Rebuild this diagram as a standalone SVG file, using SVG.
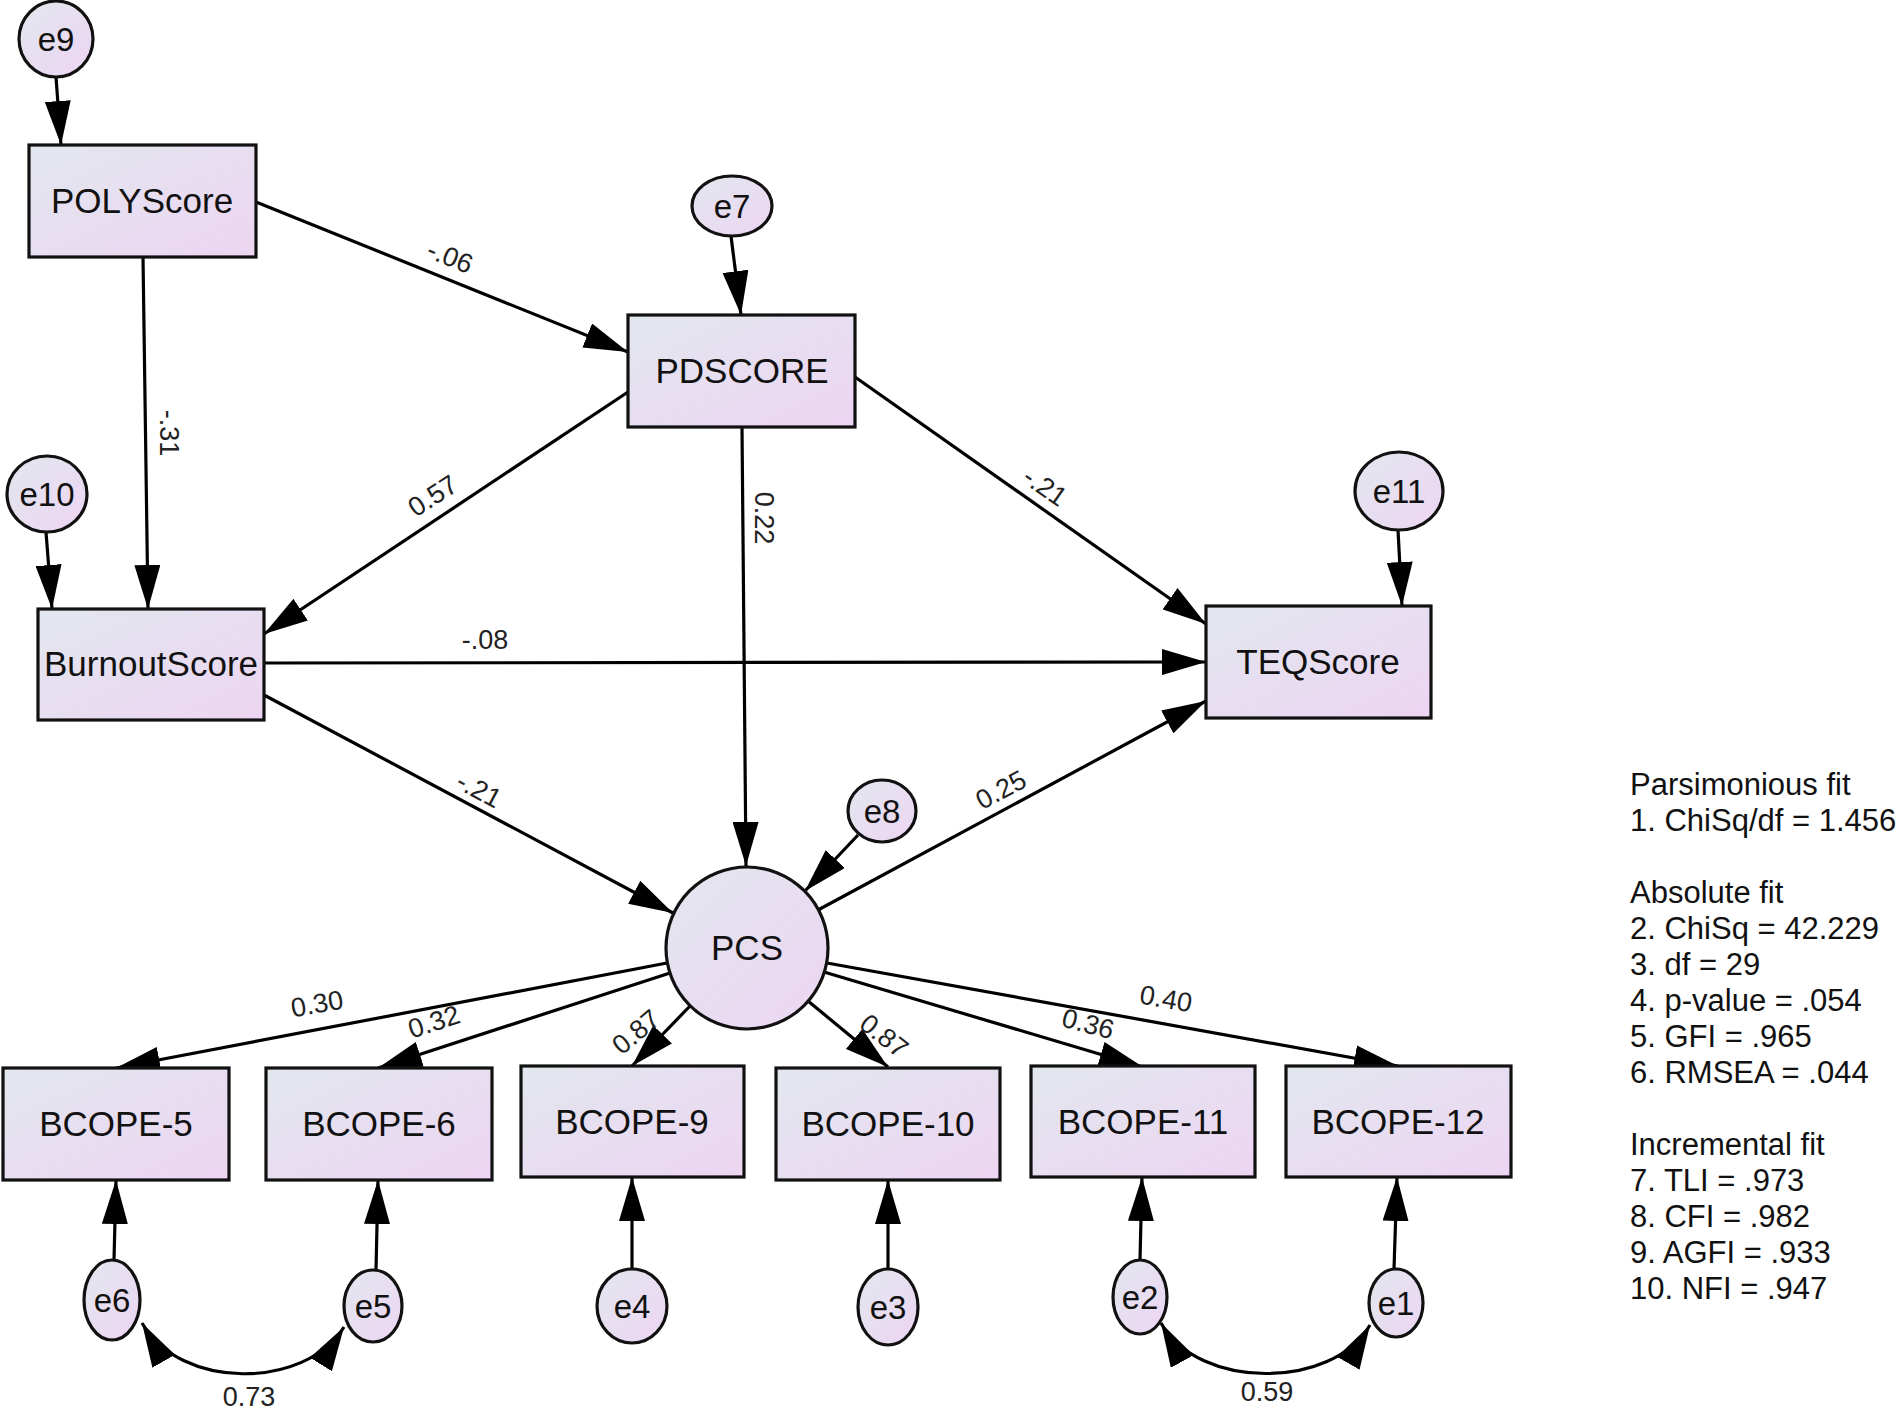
<svg xmlns="http://www.w3.org/2000/svg" width="1901" height="1409" viewBox="0 0 1901 1409">
<defs>
<linearGradient id="g" x1="0" y1="0" x2="1" y2="1">
<stop offset="0" stop-color="#e2e7ee"/>
<stop offset="1" stop-color="#edd5f3"/>
</linearGradient>
<marker id="ah" markerUnits="userSpaceOnUse" markerWidth="44" markerHeight="26" refX="44" refY="13" orient="auto-start-reverse" viewBox="0 0 44 26">
<path d="M0,0 L44,13 L0,26 Z" fill="#000"/>
</marker>
<style>
.box{fill:url(#g);stroke:#111;stroke-width:3.2}
.err{fill:url(#g);stroke:#111;stroke-width:3.2}
.nl{font-family:"Liberation Sans",Arial,sans-serif;font-size:35px;fill:#111;text-anchor:middle}
.el{font-family:"Liberation Sans",Arial,sans-serif;font-size:33px;fill:#111;text-anchor:middle}
.lab{font-family:"Liberation Sans",Arial,sans-serif;font-size:27px;fill:#222;text-anchor:middle}
.fit{font-family:"Liberation Sans",Arial,sans-serif;font-size:31px;fill:#111}
.c line,.c path{stroke:#000;stroke-width:3.2;fill:none;marker-end:url(#ah)}
.c path.cov{marker-start:url(#ah)}
</style>
</defs>
<rect width="1901" height="1409" fill="#fff"/>

<g id="connectors" class="c">
<line x1="56" y1="77" x2="61" y2="145"/>
<line x1="731" y1="236" x2="741" y2="315"/>
<line x1="46" y1="532" x2="52" y2="609"/>
<line x1="1398" y1="530" x2="1402" y2="606"/>
<line x1="858" y1="835" x2="805" y2="891"/>
<line x1="256" y1="202" x2="628" y2="352"/>
<line x1="143" y1="257" x2="148" y2="609"/>
<line x1="628" y1="392" x2="264" y2="634"/>
<line x1="742" y1="427" x2="746" y2="866"/>
<line x1="855" y1="377" x2="1206" y2="624"/>
<line x1="264" y1="663" x2="1206" y2="662"/>
<line x1="264" y1="695" x2="673" y2="913"/>
<line x1="818" y1="910" x2="1206" y2="701"/>
<line x1="667" y1="963" x2="116" y2="1068"/>
<line x1="670" y1="973" x2="378" y2="1068"/>
<line x1="690" y1="1006" x2="632" y2="1066"/>
<line x1="808" y1="1001" x2="888" y2="1067"/>
<line x1="824" y1="972" x2="1143" y2="1067"/>
<line x1="827" y1="963" x2="1398" y2="1066"/>
<line x1="114" y1="1260" x2="116" y2="1180"/>
<line x1="376" y1="1270" x2="378" y2="1180"/>
<line x1="632" y1="1269" x2="632" y2="1177"/>
<line x1="888" y1="1269" x2="888" y2="1180"/>
<line x1="1140" y1="1260" x2="1142" y2="1177"/>
<line x1="1394" y1="1269" x2="1397" y2="1177"/>
<path class="cov" d="M142,1323 C180,1390 305,1390 344,1327"/>
<path class="cov" d="M1161,1323 C1198,1390 1333,1390 1370,1325"/>
</g>

<g id="edge-labels">
<text class="lab" transform="translate(450,257) rotate(22)" y="9">-.06</text>
<text class="lab" transform="translate(169,433) rotate(90)" y="9">-.31</text>
<text class="lab" transform="translate(433,496) rotate(-33)" y="9">0.57</text>
<text class="lab" transform="translate(764,518) rotate(90)" y="9">0.22</text>
<text class="lab" transform="translate(1045,487) rotate(35)" y="9">-.21</text>
<text class="lab" transform="translate(485,640)" y="9">-.08</text>
<text class="lab" transform="translate(479,790) rotate(28)" y="9">-.21</text>
<text class="lab" transform="translate(1001,790) rotate(-28)" y="9">0.25</text>
<text class="lab" transform="translate(317,1004) rotate(-10)" y="9">0.30</text>
<text class="lab" transform="translate(434,1022) rotate(-18)" y="9">0.32</text>
<text class="lab" transform="translate(636,1032) rotate(-40)" y="9">0.87</text>
<text class="lab" transform="translate(884,1036) rotate(38)" y="9">0.87</text>
<text class="lab" transform="translate(1088,1024) rotate(15)" y="9">0.36</text>
<text class="lab" transform="translate(1166,999) rotate(10)" y="9">0.40</text>
<text class="lab" transform="translate(249,1397)" y="9">0.73</text>
<text class="lab" transform="translate(1267,1392)" y="9">0.59</text>
</g>

<g id="POLYScore"><rect class="box" x="29" y="145" width="227" height="112"/><text class="nl" x="142" y="213">POLYScore</text></g>
<g id="PDSCORE"><rect class="box" x="628" y="315" width="227" height="112"/><text class="nl" x="742" y="383">PDSCORE</text></g>
<g id="BurnoutScore"><rect class="box" x="38" y="609" width="226" height="111"/><text class="nl" x="151" y="676">BurnoutScore</text></g>
<g id="TEQScore"><rect class="box" x="1206" y="606" width="225" height="112"/><text class="nl" x="1318" y="674">TEQScore</text></g>
<g id="PCS"><circle class="err" cx="747" cy="948" r="81"/><text class="nl" x="747" y="960">PCS</text></g>
<g id="BCOPE-5"><rect class="box" x="3" y="1068" width="226" height="112"/><text class="nl" x="116" y="1136">BCOPE-5</text></g>
<g id="BCOPE-6"><rect class="box" x="266" y="1068" width="226" height="112"/><text class="nl" x="379" y="1136">BCOPE-6</text></g>
<g id="BCOPE-9"><rect class="box" x="521" y="1066" width="223" height="111"/><text class="nl" x="632" y="1134">BCOPE-9</text></g>
<g id="BCOPE-10"><rect class="box" x="776" y="1068" width="224" height="112"/><text class="nl" x="888" y="1136">BCOPE-10</text></g>
<g id="BCOPE-11"><rect class="box" x="1031" y="1066" width="224" height="111"/><text class="nl" x="1143" y="1134">BCOPE-11</text></g>
<g id="BCOPE-12"><rect class="box" x="1286" y="1066" width="225" height="111"/><text class="nl" x="1398" y="1134">BCOPE-12</text></g>

<g id="e9"><ellipse class="err" cx="56" cy="39" rx="37" ry="38"/><text class="el" x="56" y="51">e9</text></g>
<g id="e7"><ellipse class="err" cx="732" cy="206" rx="40" ry="30"/><text class="el" x="732" y="218">e7</text></g>
<g id="e10"><ellipse class="err" cx="47" cy="494" rx="40" ry="38"/><text class="el" x="47" y="506">e10</text></g>
<g id="e11"><ellipse class="err" cx="1399" cy="491" rx="44" ry="39"/><text class="el" x="1399" y="503">e11</text></g>
<g id="e8"><ellipse class="err" cx="882" cy="811" rx="34" ry="31"/><text class="el" x="882" y="823">e8</text></g>
<g id="e6"><ellipse class="err" cx="112" cy="1300" rx="28" ry="40"/><text class="el" x="112" y="1312">e6</text></g>
<g id="e5"><ellipse class="err" cx="373" cy="1306" rx="29" ry="36"/><text class="el" x="373" y="1318">e5</text></g>
<g id="e4"><ellipse class="err" cx="632" cy="1306" rx="35" ry="37"/><text class="el" x="632" y="1318">e4</text></g>
<g id="e3"><ellipse class="err" cx="888" cy="1307" rx="30" ry="38"/><text class="el" x="888" y="1319">e3</text></g>
<g id="e2"><ellipse class="err" cx="1140" cy="1297" rx="27" ry="37"/><text class="el" x="1140" y="1309">e2</text></g>
<g id="e1"><ellipse class="err" cx="1396" cy="1303" rx="27" ry="34"/><text class="el" x="1396" y="1315">e1</text></g>

<g id="fit-indices" class="fit">
<text x="1630" y="795">Parsimonious fit</text>
<text x="1630" y="831">1. ChiSq/df = 1.456</text>
<text x="1630" y="903">Absolute fit</text>
<text x="1630" y="939">2. ChiSq = 42.229</text>
<text x="1630" y="975">3. df = 29</text>
<text x="1630" y="1011">4. p-value = .054</text>
<text x="1630" y="1047">5. GFI = .965</text>
<text x="1630" y="1083">6. RMSEA = .044</text>
<text x="1630" y="1155">Incremental fit</text>
<text x="1630" y="1191">7. TLI = .973</text>
<text x="1630" y="1227">8. CFI = .982</text>
<text x="1630" y="1263">9. AGFI = .933</text>
<text x="1630" y="1299">10. NFI = .947</text>
</g>
</svg>
